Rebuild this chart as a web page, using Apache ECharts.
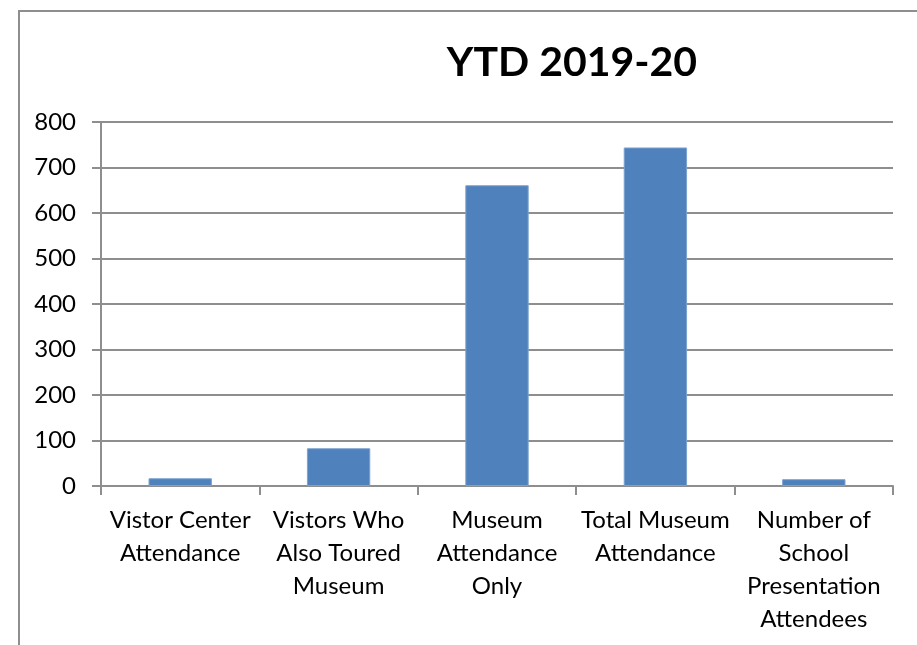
<!DOCTYPE html>
<html>
<head>
<meta charset="utf-8">
<script src="https://cdn.jsdelivr.net/npm/echarts@6/dist/echarts.min.js"></script>
<style>
  html, body { margin: 0; padding: 0; background: #fff; }
  #chart { width: 917px; height: 645px; }
</style>
</head>
<body>
<div id="chart"></div>
<script>
// Attendance categories (labels wrap onto lines as printed under the axis)
const categories = [
  'Vistor Center\nAttendance',
  'Vistors Who\nAlso Toured\nMuseum',
  'Museum\nAttendance\nOnly',
  'Total Museum\nAttendance',
  'Number of\nSchool\nPresentation\nAttendees'
];
const attendance = [17, 83, 661, 744, 15];
const yTicks = { min: 0, max: 800, interval: 100 };
const chartTitle = 'YTD 2019-20';

const chart = echarts.init(document.getElementById('chart'), null, { renderer: 'canvas' });
const font = 'Lato, "Open Sans", sans-serif';
const gray = '#8e8e8e';

chart.setOption({
  animation: false,
  backgroundColor: '#fff',
  graphic: [{
    type: 'rect',
    shape: { x: 19, y: 11, width: 1200, height: 1000 },
    style: { fill: 'none', stroke: gray, lineWidth: 2 },
    silent: true
  }],
  title: {
    text: chartTitle,
    left: 567,
    top: 37,
    textAlign: 'center',
    textStyle: { fontFamily: font, fontWeight: 'bold', fontSize: 41, color: '#000' }
  },
  grid: { left: 101, right: 24, top: 122, bottom: 159, containLabel: false },
  xAxis: {
    type: 'category',
    data: categories,
    axisLine: { lineStyle: { color: gray, width: 2 } },
    axisTick: { show: true, length: 9, lineStyle: { color: gray, width: 2 } },
    axisLabel: {
      interval: 0,
      margin: 18,
      fontFamily: font,
      fontSize: 24,
      lineHeight: 33,
      color: '#000',
      align: 'center'
    }
  },
  yAxis: {
    type: 'value',
    min: yTicks.min,
    max: yTicks.max,
    interval: yTicks.interval,
    axisLine: { show: true, lineStyle: { color: gray, width: 2 } },
    axisTick: { show: true, length: 9, lineStyle: { color: gray, width: 2 } },
    splitLine: { lineStyle: { color: gray, width: 2 } },
    axisLabel: { margin: 25, fontFamily: font, fontSize: 24, color: '#000' }
  },
  series: [{
    type: 'bar',
    data: attendance,
    barWidth: '40%',
    itemStyle: { color: '#4f81bd', borderColor: '#7da2d0', borderWidth: 1 }
  }]
});
</script>
</body>
</html>
